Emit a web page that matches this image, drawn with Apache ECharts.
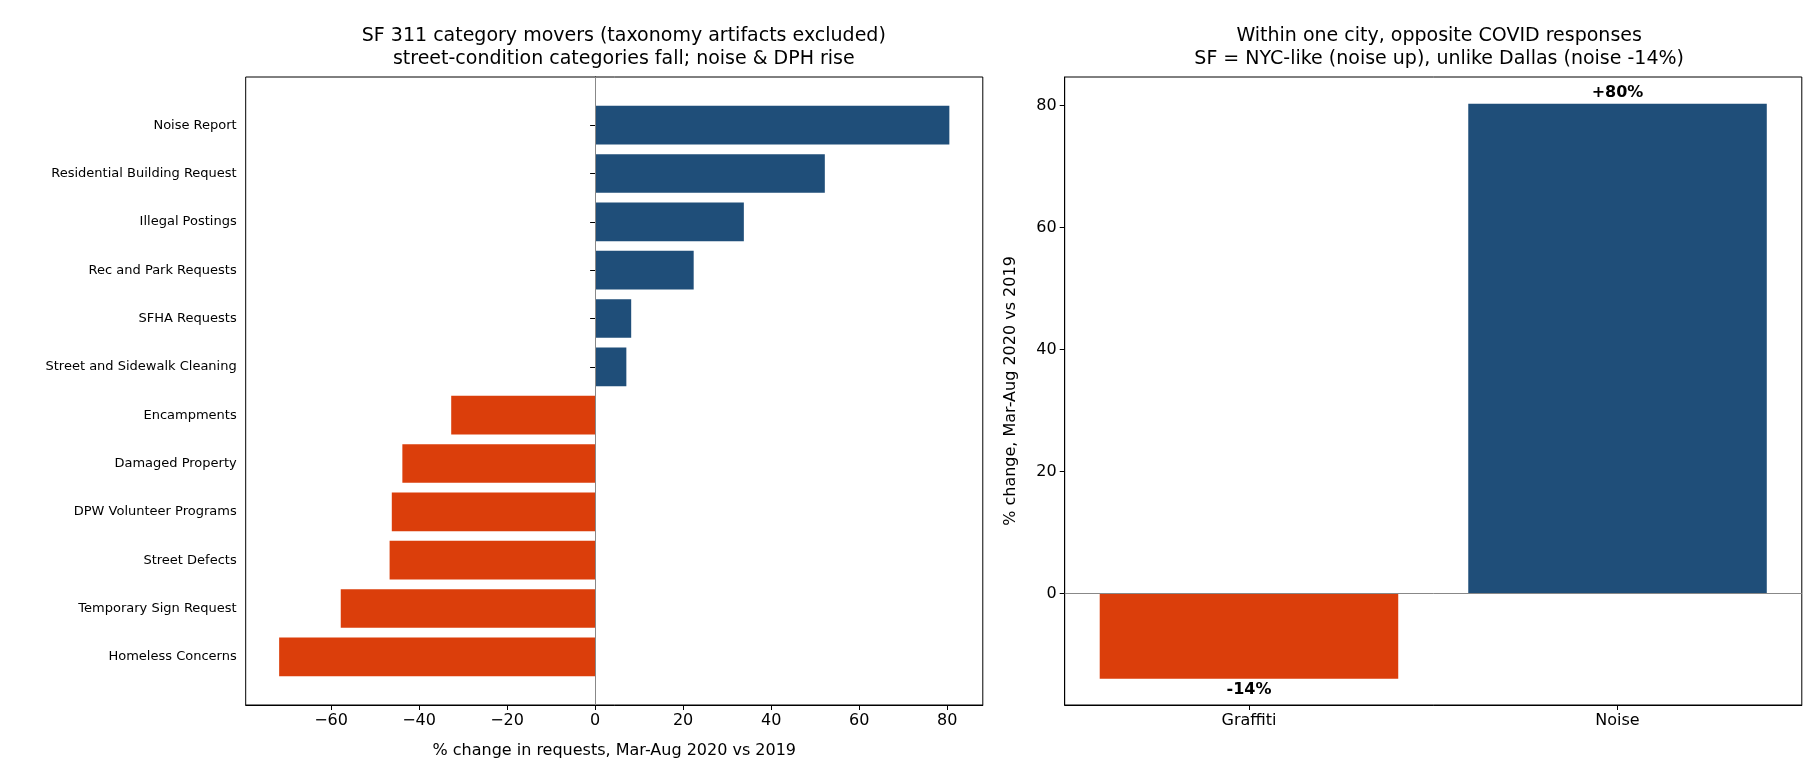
<!doctype html>
<html>
<head>
<meta charset="utf-8">
<title>SF 311 category movers</title>
<script src="https://cdn.jsdelivr.net/npm/echarts@6/dist/echarts.min.js"></script>
<style>
  html, body { margin: 0; padding: 0; background: #fff; }
  #chart { width: 1820px; height: 780px; }
</style>
</head>
<body>
<div id="chart"></div>
<script>
var categories = ['Noise Report', 'Residential Building Request', 'Illegal Postings', 'Rec and Park Requests',
    'SFHA Requests', 'Street and Sidewalk Cleaning', 'Encampments', 'Damaged Property',
    'DPW Volunteer Programs', 'Street Defects', 'Temporary Sign Request', 'Homeless Concerns'];
var changes = [80.5, 52.2, 33.8, 22.4, 8.2, 7.1, -32.7, -43.8, -46.2, -46.7, -57.8, -71.8];
var xTicks = [-60, -40, -20, 0, 20, 40, 60, 80];

var cityCats = ['Graffiti', 'Noise'];
var cityChanges = [-14, 80.3];
var cityLabels = ['-14%', '+80%'];
var yTicks = [0, 20, 40, 60, 80];

var BLUE = '#1f4e79', ORANGE = '#db3e0b';
var font = 'DejaVu Sans';
var hidden = { show: false };

var myChart = echarts.init(document.getElementById('chart'));

var option = {
    animation: false,
    textStyle: { fontFamily: font },
    title: [
        { text: 'SF 311 category movers (taxonomy artifacts excluded)\nstreet-condition categories fall; noise & DPH rise',
          left: '34%', top: 20, textAlign: 'center',
          textStyle: { fontSize: 19, fontWeight: 'normal', color: '#000', lineHeight: 23 } },
        { text: 'Within one city, opposite COVID responses\nSF = NYC-like (noise up), unlike Dallas (noise -14%)',
          left: '78.8%', top: 20, textAlign: 'center',
          textStyle: { fontSize: 19, fontWeight: 'normal', color: '#000', lineHeight: 23 } }
    ],
    grid: [
        // frame + visible x axis of the left panel
        { left: '13.5%', width: '40.5%', top: 77, height: 628, show: true, borderColor: '#000', borderWidth: 1 },
        // inner bar area of the left panel (leaves matplotlib-like margins above and below)
        { left: '13.5%', width: '40.5%', top: 101, height: 580 },
        { left: '58.5%', width: '40.5%', top: 77, height: 628, show: true, borderColor: '#000', borderWidth: 1 }
    ],
    xAxis: [
        { gridIndex: 0, type: 'value', min: -79.4, max: 88.1,
          name: '% change in requests, Mar-Aug 2020 vs 2019', nameLocation: 'middle', nameGap: 38,
          nameTextStyle: { fontSize: 16, color: '#000' },
          axisLine: { show: true, onZero: false, lineStyle: { color: '#000' } },
          axisTick: { show: true, length: 5, customValues: xTicks, lineStyle: { color: '#000' } },
          axisLabel: { customValues: xTicks, fontSize: 16, color: '#000',
                       formatter: function (v) { return v < 0 ? '\u2212' + Math.abs(v) : String(v); } },
          splitLine: hidden },
        { gridIndex: 1, type: 'value', min: -79.4, max: 88.1,
          axisLine: hidden, axisTick: hidden, axisLabel: hidden, splitLine: hidden },
        { gridIndex: 2, type: 'category', data: cityCats,
          axisLine: { show: true, onZero: false, lineStyle: { color: '#000' } },
          axisTick: { show: true, alignWithLabel: true, length: 5, lineStyle: { color: '#000' } },
          axisLabel: { fontSize: 16, color: '#000' } }
    ],
    yAxis: [
        { gridIndex: 0, type: 'value', min: 0, max: 1,
          axisLine: { show: true, lineStyle: { color: '#000' } }, axisTick: hidden, axisLabel: hidden, splitLine: hidden },
        { gridIndex: 1, type: 'category', data: categories, inverse: true,
          axisLine: hidden,
          axisTick: { show: true, alignWithLabel: true, length: 5, lineStyle: { color: '#000' } },
          axisLabel: { fontSize: 13, color: '#000', margin: 9 } },
        { gridIndex: 2, type: 'value', min: -18.3, max: 84.7,
          name: '% change, Mar-Aug 2020 vs 2019', nameLocation: 'middle', nameGap: 46,
          nameTextStyle: { fontSize: 16, color: '#000' },
          axisLine: { show: true, onZero: false, lineStyle: { color: '#000' } },
          axisTick: { show: true, length: 5, customValues: yTicks, lineStyle: { color: '#000' } },
          axisLabel: { customValues: yTicks, fontSize: 16, color: '#000' },
          splitLine: hidden }
    ],
    series: [
        { type: 'bar', xAxisIndex: 1, yAxisIndex: 1, barCategoryGap: '20%',
          data: changes.map(function (v) {
              return { value: v, itemStyle: { color: v >= 0 ? BLUE : ORANGE } };
          }) },
        { type: 'line', xAxisIndex: 0, yAxisIndex: 0, data: [], silent: true,
          markLine: { silent: true, symbol: 'none', label: { show: false },
                      lineStyle: { color: '#888', type: 'solid', width: 1 }, data: [{ xAxis: 0 }] } },
        { type: 'bar', xAxisIndex: 2, yAxisIndex: 2, barCategoryGap: '19%',
          data: cityChanges.map(function (v, i) {
              return { value: v, itemStyle: { color: v >= 0 ? BLUE : ORANGE },
                       label: { show: true, position: v >= 0 ? 'top' : 'bottom', formatter: cityLabels[i],
                                fontWeight: 'bold', fontSize: 16, color: '#000', distance: 3 } };
          }),
          markLine: { silent: true, symbol: 'none', label: { show: false },
                      lineStyle: { color: '#888', type: 'solid', width: 1 }, data: [{ yAxis: 0 }] } }
    ]
};

myChart.setOption(option);
</script>
</body>
</html>
